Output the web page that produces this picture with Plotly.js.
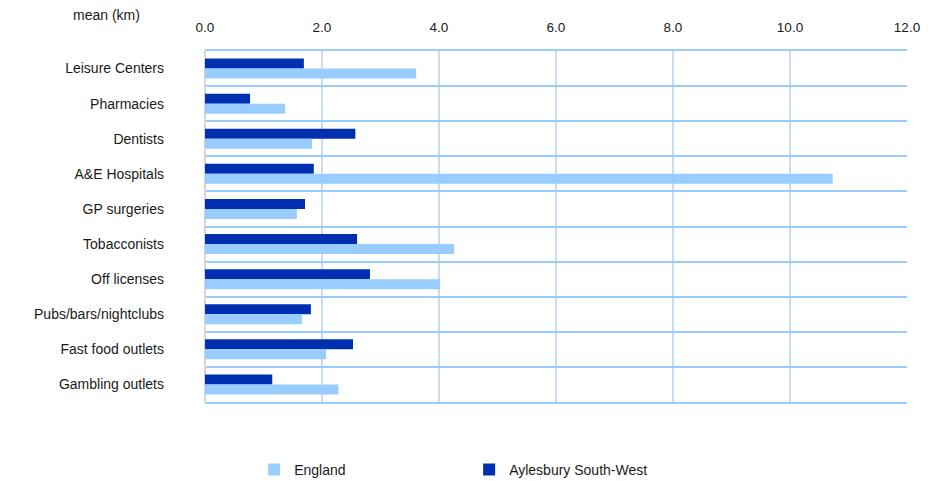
<!DOCTYPE html>
<html>
<head>
<meta charset="utf-8">
<script src="https://cdn.plot.ly/plotly-3.0.1.min.js"></script>
<style>html,body{margin:0;padding:0;background:#fff;}#chart{width:937px;height:481px;}</style>
</head>
<body>
<div id="chart"></div>
<script>
const categories = ["Leisure Centers","Pharmacies","Dentists","A&E Hospitals","GP surgeries","Tobacconists","Off licenses","Pubs/bars/nightclubs","Fast food outlets","Gambling outlets"];
const aylesbury = [1.69,0.77,2.57,1.86,1.71,2.60,2.82,1.81,2.53,1.15];
const england = [3.61,1.37,1.83,10.73,1.57,4.26,4.02,1.66,2.07,2.28];
const xTicks = [0,2,4,6,8,10,12];

const font = {family: "Liberation Sans, Arial, sans-serif", size: 13.5, color: "#1a1a1a"};
const labelFont = {family: "Liberation Sans, Arial, sans-serif", size: 14, color: "#1a1a1a"};

const traces = [
  {type:"bar", orientation:"h", name:"Aylesbury South-West", y:categories, x:aylesbury,
   marker:{color:"#0030b0"}, hoverinfo:"x+y"},
  {type:"bar", orientation:"h", name:"England", y:categories, x:england,
   marker:{color:"#99ccff"}, hoverinfo:"x+y"}
];

const layout = {
  width:937, height:481,
  margin:{l:205, r:30, t:51, b:79, autoexpand:false},
  paper_bgcolor:"#fff", plot_bgcolor:"#fff",
  font: font,
  barmode:"group", bargap:0.43, bargroupgap:0,
  showlegend:true,
  legend:{orientation:"h", traceorder:"reversed", x:0.07, xanchor:"left", y:-0.148, yanchor:"top",
          entrywidth:170, entrywidthmode:"pixels", font:labelFont},
  xaxis:{side:"top", range:[0,12], tickvals:xTicks, tickformat:".1f", ticks:"",
         showgrid:true, gridcolor:"#c8dcf4", gridwidth:2, zeroline:true, zerolinecolor:"#d6d6d6", zerolinewidth:2,
         showline:true, mirror:true, linecolor:"#99ccff", linewidth:2, tickfont:font,
         ticklabelstandoff:12, fixedrange:true},
  yaxis:{type:"category", autorange:"reversed", tickson:"boundaries", ticks:"",
         showgrid:true, gridcolor:"#99ccff", gridwidth:2, zeroline:false, showline:false,
         ticklabelstandoff:40, tickfont:labelFont, fixedrange:true},
  annotations:[{text:"mean (km)", xref:"paper", yref:"paper", x:-0.141, y:1.0, yshift:36, xanchor:"center", yanchor:"middle",
                showarrow:false, font:labelFont}]
};

Plotly.newPlot("chart", traces, layout, {displayModeBar:false, staticPlot:true});
</script>
</body>
</html>
